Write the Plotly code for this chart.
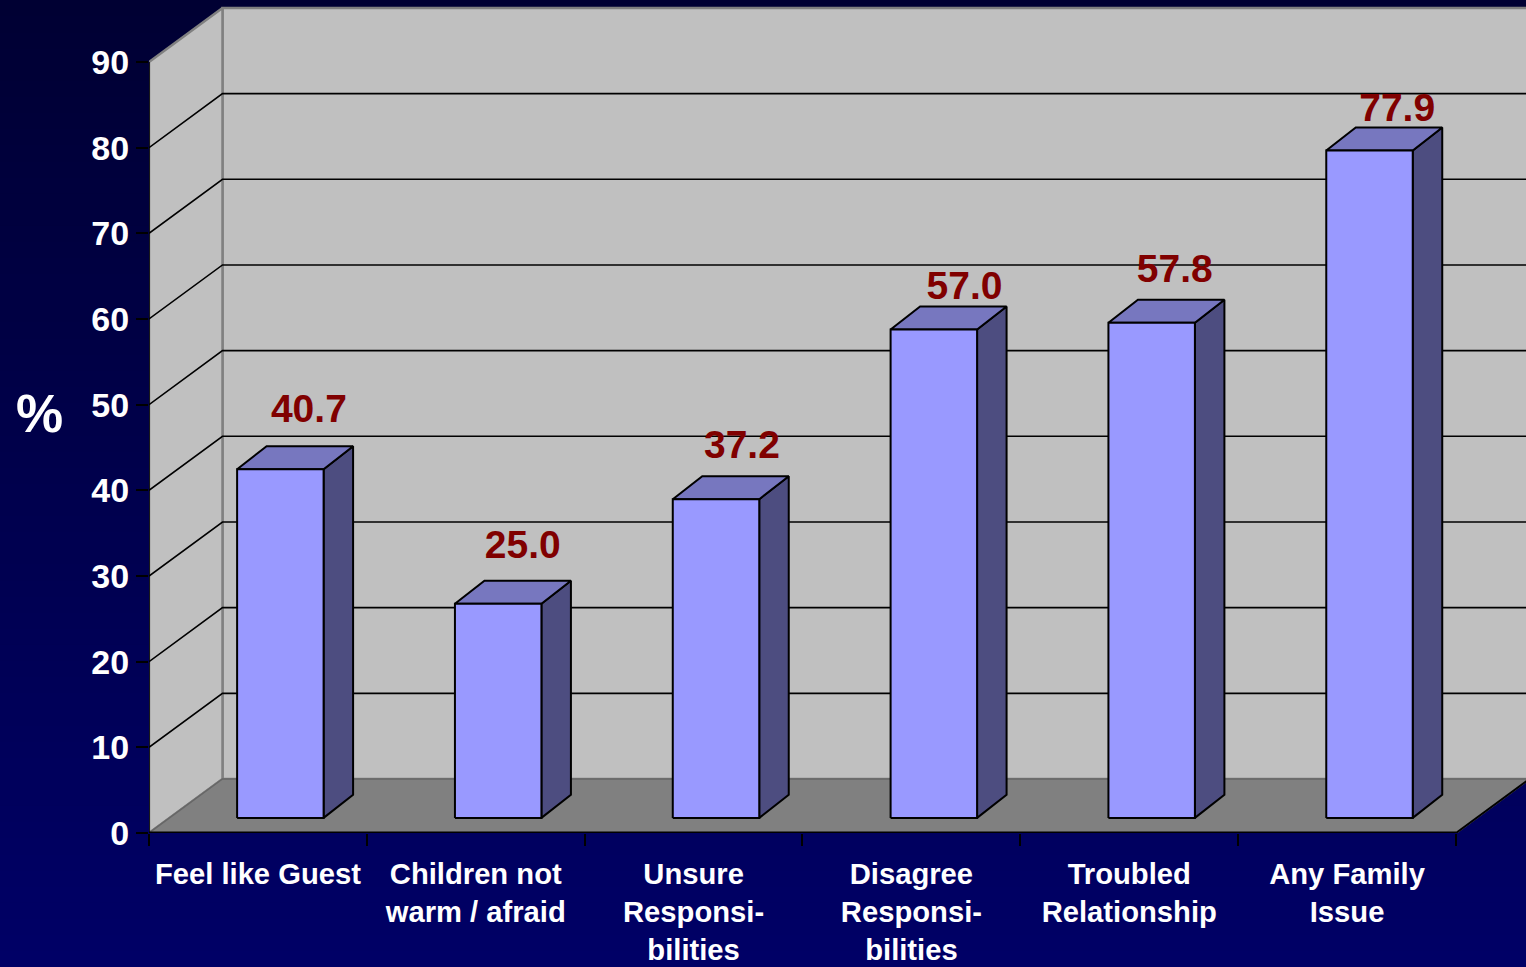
import plotly.graph_objects as go

categories = ["Feel like Guest", "Children not<br>warm / afraid", "Unsure<br>Responsi-<br>bilities",
              "Disagree<br>Responsi-<br>bilities", "Troubled<br>Relationship", "Any Family<br>Issue"]
values = [40.7, 25.0, 37.2, 57.0, 57.8, 77.9]
value_labels = ["40.7", "25.0", "37.2", "57.0", "57.8", "77.9"]
y_ticks = [0, 10, 20, 30, 40, 50, 60, 70, 80, 90]

# hand-placed label offsets, as in the source chart
label_dx = [0.734, 0.716, 0.722, 0.744, 0.709, 0.73]
label_dy = [6.7, 6.5, 5.9, 4.7, 5.9, 4.6]

W, H = 1526, 967
L, B = 149, 134
PX_X = 217.83      # pixels per category
PX_Y = 8.567       # pixels per percent
DX = 73.5 / PX_X   # depth offset of the chart box, in x units
DY = 54 / PX_Y     # depth offset of the chart box, in y units
BAR_LEFT, BAR_W = 0.31, 0.397
D0 = 0.28          # bar front position in depth
BAR_DX = 29.5 / PX_X
BAR_DY = 23 / PX_Y
N = len(values)

GRID = "#000000"
WALL = "#C0C0C0"
EDGE = "#808080"
FLOOR = "#808080"
FLOOR_EDGE = "#666666"
FRONT = "#9999FF"
TOP = "#7777BF"
SIDE = "#4D4D80"

fig = go.Figure()


def poly(xs, ys, fill=None, color="#000000", width=2):
    fig.add_trace(go.Scatter(
        x=xs, y=ys, mode="lines", fill="toself" if fill else "none",
        fillcolor=fill, line=dict(color=color, width=width),
        hoverinfo="skip", showlegend=False))


# walls and floor
poly([DX, N + DX, N + DX, DX, DX], [DY, DY, 90 + DY, 90 + DY, DY], WALL, EDGE, 2.5)
poly([0, DX, DX, 0, 0], [0, DY, 90 + DY, 90, 0], WALL, EDGE, 2.5)
poly([0, DX, N + DX, N, 0], [0, DY, DY, 0, 0], FLOOR, EDGE, 2)
poly([0, DX, N + DX], [0, DY, DY], None, FLOOR_EDGE, 1.5)

# gridlines
for t in y_ticks[1:-1]:
    poly([0, DX, N + DX], [t, t + DY, t + DY], None, GRID, 1.6)
poly([0, 0], [0, 90], None, GRID, 1.6)

# bars
for i, v in enumerate(values):
    x0 = i + BAR_LEFT
    x1 = x0 + BAR_W
    sx0, sy0 = D0 * DX, D0 * DY
    sx1, sy1 = sx0 + BAR_DX, sy0 + BAR_DY
    xl, xr = x0 + sx0, x1 + sx0
    bxl, bxr = x0 + sx1, x1 + sx1
    poly([xr, bxr, bxr, xr, xr], [sy0, sy1, v + sy1, v + sy0, sy0], SIDE)
    poly([xl, xr, bxr, bxl, xl], [v + sy0, v + sy0, v + sy1, v + sy1, v + sy0], TOP)
    poly([xl, xr, xr, xl, xl], [sy0, sy0, v + sy0, v + sy0, sy0], FRONT)

# front floor edges
poly([0, N], [0, 0], None, "#000000", 3)
poly([N, N + DX], [0, DY], None, "#000000", 2)

# value labels
fig.add_trace(go.Scatter(
    x=[i + d for i, d in enumerate(label_dx)],
    y=[v + D0 * DY + d for v, d in zip(values, label_dy)],
    mode="text", text=value_labels, textposition="middle center",
    textfont=dict(family="Liberation Sans", size=39, color="#800000", weight=700),
    hoverinfo="skip", showlegend=False))

# page gradient
STEPS = 60
shapes = []
for s in range(STEPS):
    f = s / (STEPS - 1)
    shapes.append(dict(
        type="rect", xref="paper", yref="paper", layer="below",
        x0=-L / (W - L), x1=1,
        y0=1 - (s + 1) / STEPS * H / (H - B) - 0.001,
        y1=1 - s / STEPS * H / (H - B),
        fillcolor=f"rgb(0,0,{round(51 + f * 51)})", line=dict(width=0)))

fig.update_layout(
    width=W, height=H, autosize=False,
    margin=dict(l=L, r=0, t=0, b=B, pad=0),
    paper_bgcolor="#000050", plot_bgcolor="rgba(0,0,0,0)",
    showlegend=False, shapes=shapes,
    annotations=[dict(text="%", xref="paper", yref="paper", x=(39 - L) / (W - L),
                      y=(H - B - 413) / (H - B), showarrow=False,
                      xanchor="center", yanchor="middle",
                      font=dict(family="Liberation Sans", size=53, color="#FFFFFF", weight=700))],
    xaxis=dict(
        range=[0, (W - L) / PX_X], showgrid=False, zeroline=False, showline=False,
        tickmode="array", tickvals=[i + 0.5 for i in range(N)], ticktext=categories,
        ticks="outside", ticklen=15, tickcolor="rgba(0,0,0,0)", tickangle=0,
        tickfont=dict(family="Liberation Sans", size=29.2, color="#FFFFFF", weight=700),
        minor=dict(tickmode="array", tickvals=list(range(N + 1)), ticks="outside",
                   ticklen=12, tickwidth=2, tickcolor="#000000", showgrid=False),
    ),
    yaxis=dict(
        range=[0, (H - B) / PX_Y], showgrid=False, zeroline=False, showline=False,
        tickmode="array", tickvals=y_ticks, ticktext=[str(t) for t in y_ticks],
        ticks="outside", ticklen=12, tickwidth=2, tickcolor="#000000",
        ticklabelstandoff=0,
        tickfont=dict(family="Liberation Sans", size=34, color="#FFFFFF", weight=700),
    ),
)

fig.write_html("out.html", config=dict(displayModeBar=False),
               post_script="document.body.style.margin='0';document.documentElement.style.overflow='hidden';")
